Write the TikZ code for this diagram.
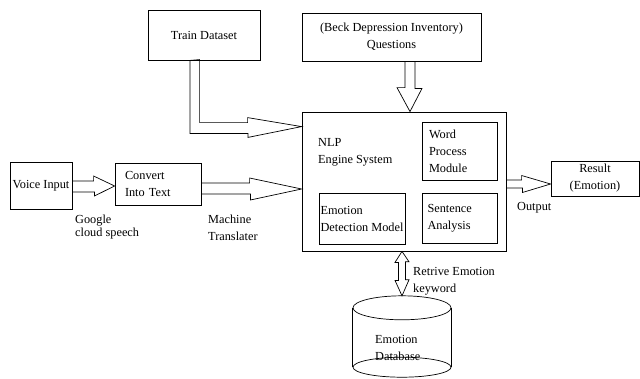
\documentclass[tikz,border=0pt]{standalone}
\usepackage{fontspec}
\setmainfont{Liberation Serif}
\usepackage{tikz}
\tikzstyle{box} = [rectangle, draw=black, line width=0.8pt, inner sep=0pt]
\tikzstyle{txt} = [inner sep=0pt, align=left]
\tikzstyle{hollow} = [draw=black, line width=0.7pt, line join=miter]

\begin{document}
\begin{tikzpicture}[x=1pt, y=-1pt, every node/.style={font=\fontsize{12.3}{17}\selectfont}]
  \useasboundingbox (0,0) rectangle (640,378);
  \node (voice) [box, minimum width=62pt, minimum height=47pt] at (41,185.5) {Voice Input};
  \node (convert) [box, minimum width=86pt, minimum height=42pt, text width=66pt, align=left] at (158,184) {Convert\\Into Text};
  \node (train) [box, minimum width=112pt, minimum height=50pt] at (204,35) {Train Dataset};
  \node (bdi) [box, minimum width=179pt, minimum height=48pt, align=center] at (391.5,37) {(Beck Depression Inventory)\\Questions};
  \node (nlp) [box, minimum width=204pt, minimum height=139pt] at (404,181.5) {};
  \node (nlptext) [txt, anchor=west] at (318,152) {NLP\\Engine System};
  \node (word) [box, minimum width=75pt, minimum height=58pt, text width=61pt, align=left] at (459.5,151) {Word\\Process\\Module};
  \node (emotion) [box, minimum width=86pt, minimum height=51pt, align=left] at (362,218.5) {Emotion\\Detection Model};
  \node (sentence) [box, minimum width=75pt, minimum height=50pt, text width=64pt, align=left] at (459.5,218) {Sentence\\Analysis};
  \node (result) [box, minimum width=88pt, minimum height=35pt, align=center] at (595,178.5) {Result\\(Emotion)};
  \node (db) [minimum width=98pt, minimum height=59pt, inner sep=0pt] at (402,337.5) {};
  \node (dbtext) [txt, anchor=west] at (375,347.5) {Emotion\\Database};

  % database drum
  \draw [line width=0.7pt] (db.north west) -- (db.south west);
  \draw [line width=0.7pt] (db.north east) -- (db.south east);
  \draw [line width=0.7pt] (db.north) ellipse [x radius=49pt, y radius=12pt];
  \draw [line width=0.7pt] (db.south) ellipse [x radius=49pt, y radius=10pt];

  % labels
  \node (google) [txt, anchor=west] at (75,227) {Google\\[-3.5pt]cloud speech};
  \node (machine) [txt, anchor=west] at (208,227.5) {Machine\\Translater};
  \node (output) [txt, anchor=west] at (517,208) {Output};
  \node (retrive) [txt, anchor=west] at (413,281.5) {Retrive Emotion\\keyword};

  % hollow arrows
  \draw [hollow] ([yshift=-2pt]convert.west) -- ++(-21,-10) -- ++(0,5) coordinate (p) -- (voice.east |- p) -- ++(0,11) -- ++(22,0) -- ++(0,4) -- cycle;
  \draw [hollow] ([yshift=-7.5pt]nlp.west) -- ++(-52,-11) -- ++(0,5) coordinate (p) -- (convert.east |- p) -- ++(0,11) -- ++(49,0) -- ++(0,6) -- cycle;
  \draw [hollow] ([xshift=-14pt]train.south) -- ++(0,73) -- ++(58,0) -- ++(0,4) -- ([yshift=-15pt]nlp.north west) -- ++(-54,-9) -- ++(0,5) -- ++(-48,0) -- ++(0,-63) -- cycle;
  \draw [hollow] ([xshift=6pt]nlp.north) -- ++(-13,-24) -- ++(8,0) coordinate (p) -- (p |- bdi.south) -- ++(10,0) -- ++(0,27) -- ++(7,0) -- cycle;
  \draw [hollow] ([yshift=-5.5pt]result.west) -- ++(-29,-8.5) -- ++(0,4.5) coordinate (p) -- (nlp.east |- p) -- ++(0,8) -- ++(16,0) -- ++(0,4.5) -- cycle;
  \draw [hollow] ([xshift=-2pt]nlp.south) -- ++(-7,11) -- ++(3.5,0) -- ++(0,18) -- ++(-3.5,0) -- ([yshift=12pt]db.north) -- ++(7,-16) -- ++(-3.5,0) -- ++(0,-18) -- ++(3.5,0) -- cycle;
\end{tikzpicture}
\end{document}
